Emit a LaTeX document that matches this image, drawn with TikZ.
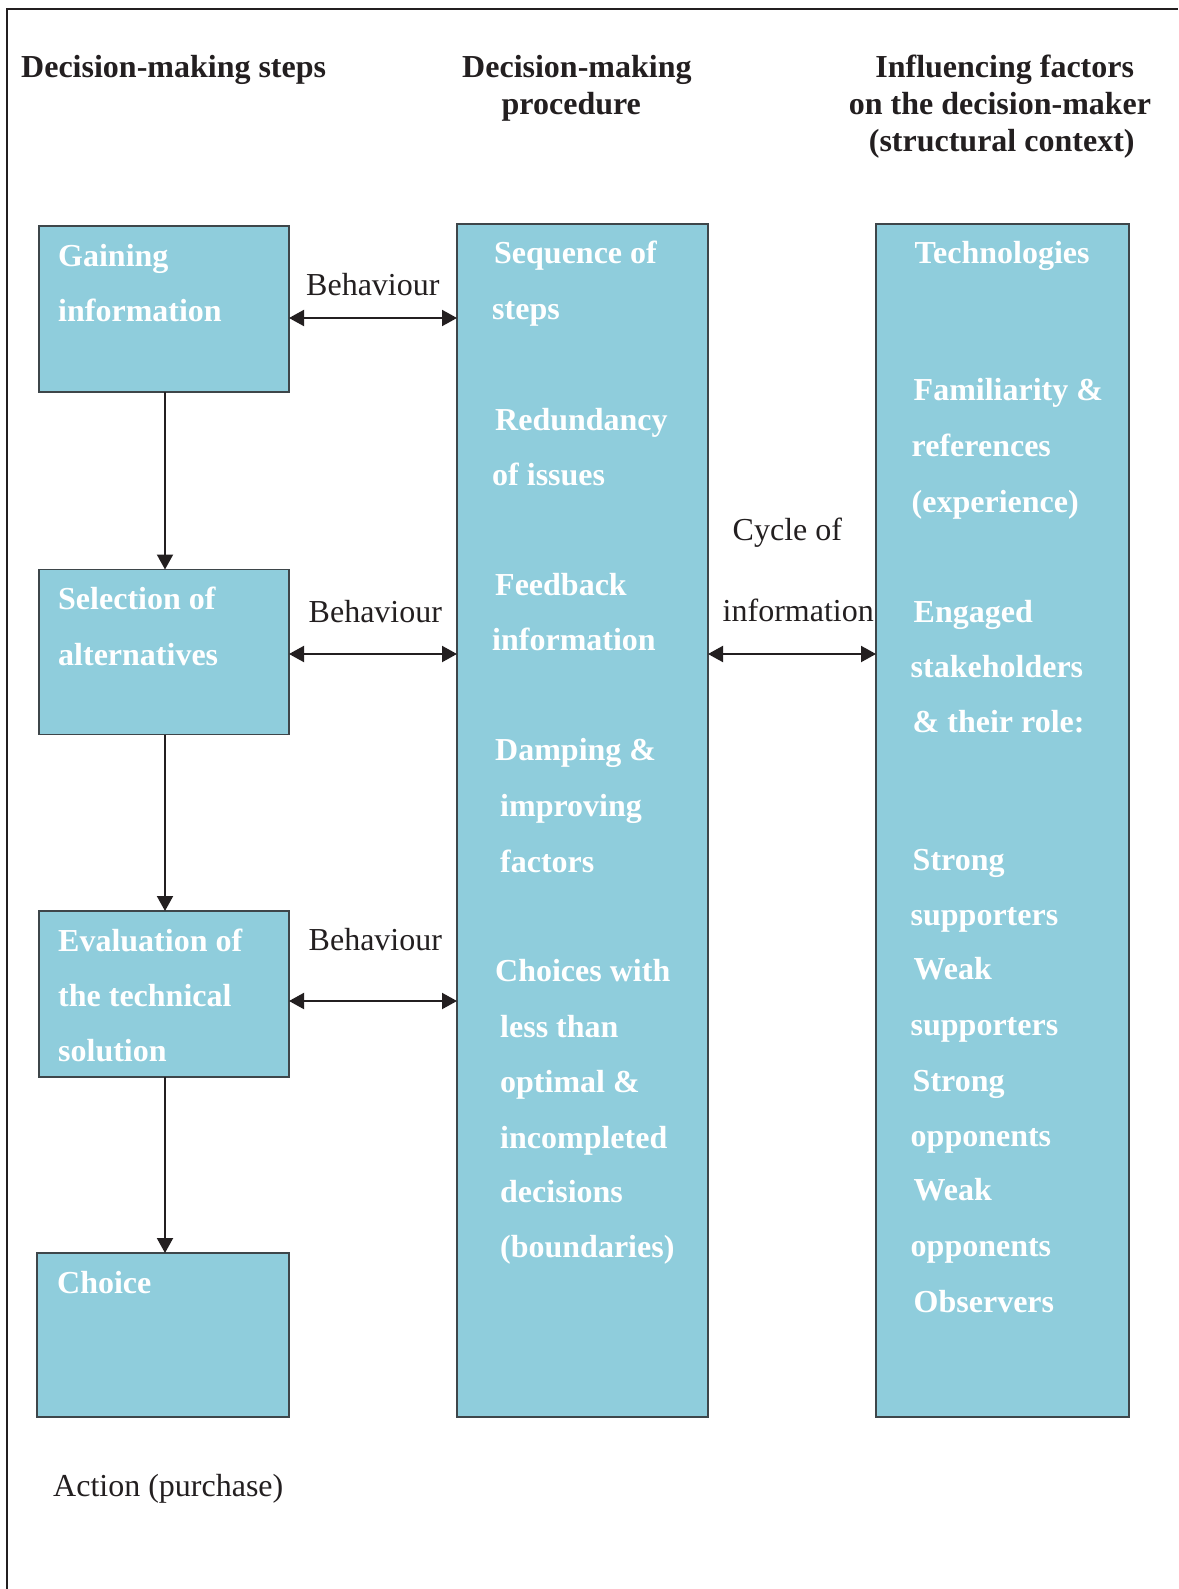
\documentclass[tikz,border=0pt]{standalone}
\usepackage{fontspec}
\setmainfont{Liberation Serif}
\usetikzlibrary{arrows.meta}
\definecolor{boxfill}{RGB}{143,205,220}
\definecolor{boxline}{RGB}{62,70,74}
\definecolor{ink}{RGB}{35,31,32}
\begin{document}
\begin{tikzpicture}[x=1pt,y=-1pt,
  stepbox/.style={draw=boxline, line width=1.4pt, fill=boxfill, rectangle,
    anchor=north west, inner sep=0pt, outer sep=0pt},
  boxtext/.style={font=\fontsize{32}{38}\selectfont\bfseries, text=white,
    anchor=base west, inner sep=0pt},
  headtext/.style={font=\fontsize{32}{38}\selectfont\bfseries, text=ink,
    anchor=base, inner sep=0pt},
  labeltext/.style={font=\fontsize{32}{38}\selectfont, text=ink,
    anchor=base west, inner sep=0pt},
  flow/.style={draw=ink, line width=2pt, -{Triangle[length=15pt,width=16pt]}},
  twoway/.style={draw=ink, line width=2pt,
    {Triangle[length=15pt,width=16pt]}-{Triangle[length=15pt,width=16pt]}}]

\useasboundingbox (0,0) rectangle (1178,1589);
\fill[white] (0,0) rectangle (1178,1589);

% outer frame (left and top edges)
\draw[ink, line width=2pt] (7,1589) -- (7,9) -- (1178,9);

% column headings
\node[headtext, anchor=base west] (h1) at (21,78) {Decision-making steps};
\node[headtext] (h2a) at (576.9,78) {Decision-making};
\node[headtext] (h2b) at (571.3,115) {procedure};
\node[headtext] (h3a) at (1004.7,78) {Influencing factors};
\node[headtext] (h3b) at (1000,115) {on the decision-maker};
\node[headtext] (h3c) at (1001.7,151.5) {(structural context)};

% decision-making steps
\node[stepbox, minimum width=250pt, minimum height=166pt] (s1) at (39,226) {};
\node[stepbox, minimum width=250pt, minimum height=165pt] (s2) at (39,569.5) {};
\node[stepbox, minimum width=250pt, minimum height=166pt] (s3) at (39,911) {};
\node[stepbox, minimum width=252pt, minimum height=164pt] (s4) at (37,1253) {};

% procedure and influencing factors columns
\node[stepbox, minimum width=251pt, minimum height=1193pt] (proc) at (457,224) {};
\node[stepbox, minimum width=253pt, minimum height=1193pt] (fact) at (876,224) {};

% texts of the steps
\foreach \x/\y/\t [count=\i] in {
  58/266/Gaining, 58/321.7/information,
  58/609.5/Selection of, 58/665.5/alternatives,
  58/951/Evaluation of, 58/1006/the technical, 58/1061/solution,
  57/1293/Choice}
  \node[boxtext] (st\i) at (\x,\y) {\t};

% texts of the procedure column
\foreach \x/\y/\t [count=\i] in {
  494/264/Sequence of, 492/319.5/steps,
  495/430/Redundancy, 492/485/of issues,
  495/595/Feedback, 492/650.5/information,
  495/760.7/Damping \&, 500/816.5/improving, 500/872/factors,
  495/981.7/Choices with, 500/1037.5/less than, 500/1092/optimal \&,
  500/1148/incompleted, 500/1202.7/decisions, 500/1257.5/(boundaries)}
  \node[boxtext] (pt\i) at (\x,\y) {\t};

% texts of the influencing factors column
\foreach \x/\y/\t [count=\i] in {
  914.5/264/Technologies,
  913.5/400.8/Familiarity \&, 911.5/456.6/references, 911.5/512.3/(experience),
  913.5/622.8/Engaged, 910.5/677.6/stakeholders, 912.5/732.3/\& their role:,
  912.5/870.2/Strong, 910.5/925/supporters,
  913.5/979.7/Weak, 910.5/1035.5/supporters,
  912.5/1091.2/Strong, 910.5/1146/opponents,
  913.5/1200.7/Weak, 910.5/1256.5/opponents,
  913.5/1312.2/Observers}
  \node[boxtext] (ft\i) at (\x,\y) {\t};

% flow between the steps
\draw[flow] ([xshift=1pt]s1.south) -- ([xshift=1pt]s2.north);
\draw[flow] ([xshift=1pt]s2.south) -- ([xshift=1pt]s3.north);
\draw[flow] ([xshift=1pt]s3.south) -- ([xshift=1pt]s3.south |- s4.north);

% behaviour links to the procedure
\draw[twoway] ([yshift=-9pt]s1.east) -- ([yshift=-9pt]s1.east -| proc.west);
\draw[twoway] ([yshift=-2pt]s2.east) -- ([yshift=-2pt]s2.east -| proc.west);
\draw[twoway] ([yshift=-7pt]s3.east) -- ([yshift=-7pt]s3.east -| proc.west);
\draw[twoway] ([yshift=-2pt]s2.east -| proc.east) -- ([yshift=-2pt]s2.east -| fact.west);

% connector labels
\node[labeltext] (b1) at (306,295) {Behaviour};
\node[labeltext] (b2) at (308.5,622.8) {Behaviour};
\node[labeltext] (b3) at (308.5,950.3) {Behaviour};
\node[labeltext] (c1) at (732.5,540) {Cycle of};
\node[labeltext] (c2) at (722.5,621.5) {information};
\node[labeltext] (act) at (53,1496.5) {Action (purchase)};
\end{tikzpicture}
\end{document}
